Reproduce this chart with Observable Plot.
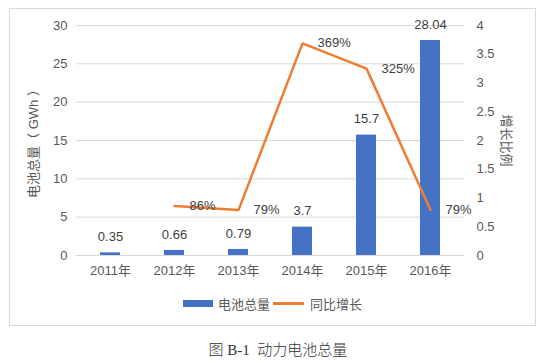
<!DOCTYPE html>
<html><head><meta charset="utf-8">
<script src="https://cdn.jsdelivr.net/npm/d3@7"></script>
<script src="https://cdn.jsdelivr.net/npm/@observablehq/plot@0.6"></script>
<style>
body{margin:0;background:#fff;font-family:"Liberation Sans","Noto Sans CJK SC",sans-serif;}
#wrap{position:relative;width:556px;height:362px;overflow:hidden;background:#fff;}
#frame{position:absolute;left:9px;top:8px;width:525px;height:316px;border:1px solid #d9d9d9;}
#chart{position:absolute;left:0;top:0;}
#legend{position:absolute;top:295px;left:183px;font-size:13px;color:#595959;display:flex;align-items:center;height:16px;}
#legend .sw{display:inline-block;width:30px;height:7px;background:#4472C4;margin-right:5px;}
#legend .ln{display:inline-block;width:31px;height:3px;background:#ED7D31;margin:0 6px 0 3px;}
#caption{position:absolute;top:338px;left:0;width:556px;text-align:center;font-family:"Liberation Serif","Noto Sans CJK SC",serif;font-size:15px;color:#333;font-weight:300;}
</style></head>
<body>
<div id="wrap">
  <div id="frame"></div>
  <div id="chart"></div>
  <div id="legend"><span class="sw"></span><span>电池总量</span><span class="ln"></span><span>同比增长</span></div>
  <div id="caption">图 B-1&nbsp; 动力电池总量</div>
</div>
<script>
const years = ["2011年", "2012年", "2013年", "2014年", "2015年", "2016年"];
const capacity = [0.35, 0.66, 0.79, 3.7, 15.7, 28.04];
const capacityLabels = ["0.35", "0.66", "0.79", "3.7", "15.7", "28.04"];
const growthYears = ["2012年", "2013年", "2014年", "2015年", "2016年"];
const growth = [0.86, 0.79, 3.69, 3.25, 0.79];
const growthLabels = ["86%", "79%", "369%", "325%", "79%"];
const leftTicks = [0, 5, 10, 15, 20, 25, 30];
const rightTicks = [0, 0.5, 1, 1.5, 2, 2.5, 3, 3.5, 4];
const leftTitle = "电池总量（ GWh ）";
const rightTitle = "增长比例";

const ratio = 30 / 4;
const bars = years.map((y, i) => ({year: y, value: capacity[i], label: capacityLabels[i]}));
const line = growthYears.map((y, i) => ({year: y, value: growth[i] * ratio, label: growthLabels[i]}));

const chart = Plot.plot({
  width: 556,
  height: 280,
  marginLeft: 76,
  marginRight: 92,
  marginTop: 25,
  marginBottom: 25,
  style: {fontFamily: '"Liberation Sans","Noto Sans CJK SC",sans-serif', fontSize: "13px", color: "#595959", background: "transparent"},
  x: {domain: years, paddingInner: 0.69, paddingOuter: 0.345},
  y: {domain: [0, 30]},
  marks: [
    Plot.gridY(leftTicks, {stroke: "#d9d9d9", strokeOpacity: 1}),
    Plot.axisX({tickSize: 0, tickPadding: 10, label: null}),
    Plot.axisY(leftTicks, {tickSize: 0, tickPadding: 9, label: null}),
    Plot.axisY(rightTicks.map(v => v * ratio), {anchor: "right", tickSize: 0, tickPadding: 12, label: null,
      tickFormat: v => String(+(v / ratio).toFixed(2))}),
    Plot.barY(bars, {x: "year", y: "value", fill: "#4472C4"}),
    Plot.text(bars, {x: "year", y: "value", text: "label", dy: -16, fill: "#404040"}),
    Plot.line(line, {x: "year", y: "value", stroke: "#ED7D31", strokeWidth: 2.5, strokeLinejoin: "miter"}),
    Plot.text(line, {x: "year", y: "value", text: "label", dx: 15, textAnchor: "start", fill: "#404040"}),
    Plot.text([leftTitle], {frameAnchor: "left", textAnchor: "middle", dx: -43, rotate: -90, fill: "#595959"}),
    Plot.text([rightTitle], {frameAnchor: "right", textAnchor: "middle", dx: 42, rotate: 90, fill: "#595959"})
  ]
});
document.getElementById("chart").appendChild(chart);
</script>
</body></html>
